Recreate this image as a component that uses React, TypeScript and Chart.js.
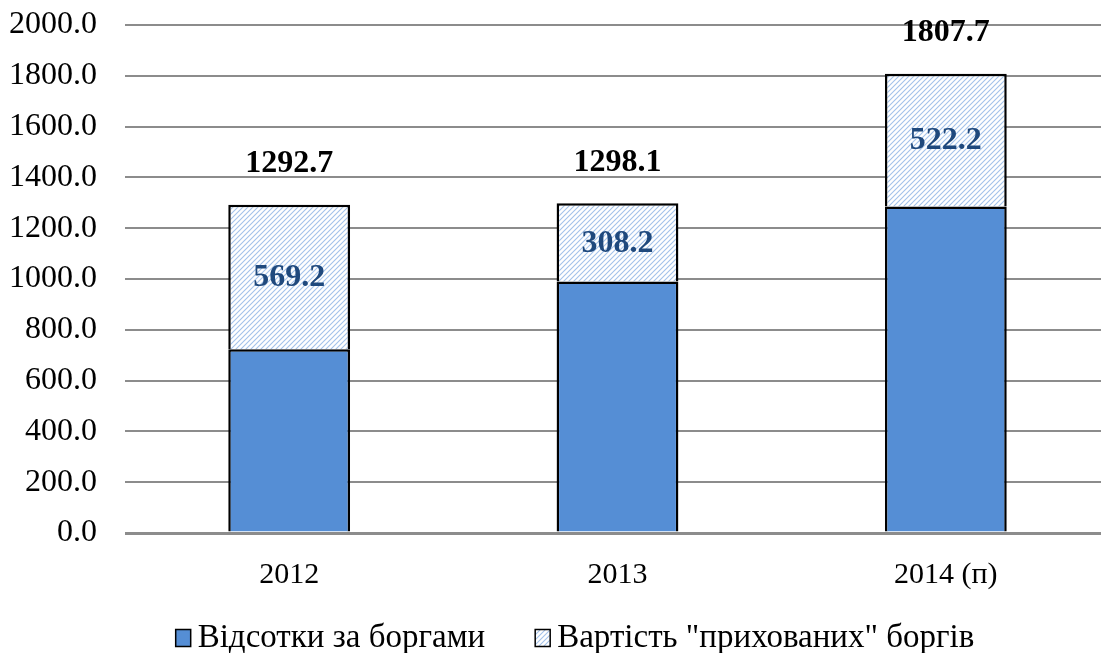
import React, { useEffect, useRef } from "react";
import { Chart, registerables } from "chart.js";

Chart.register(...registerables);

const categories = ["2012", "2013", "2014 (п)"];
const interestValues = [723.5, 989.9, 1285.5];
const hiddenDebtValues = [569.2, 308.2, 522.2];
const totalValues = [1292.7, 1298.1, 1807.7];
const seriesLabels = ["Відсотки за боргами", 'Вартість "прихованих" боргів'];
const yMin = 0;
const yMax = 2000;
const yStep = 200;

const FONT = "'Times New Roman', 'Liberation Serif', serif";

function makeHatch(): CanvasPattern | string {
  const size = 5;
  const c = document.createElement("canvas");
  c.width = size;
  c.height = size;
  const g = c.getContext("2d");
  if (!g) return "#c6d9f1";
  g.fillStyle = "#ffffff";
  g.fillRect(0, 0, size, size);
  g.strokeStyle = "#a3c2ea";
  g.lineWidth = 1.1;
  g.beginPath();
  g.moveTo(-1, size + 1);
  g.lineTo(size + 1, -1);
  g.moveTo(-1, 1);
  g.lineTo(1, -1);
  g.moveTo(size - 1, size + 1);
  g.lineTo(size + 1, size - 1);
  g.stroke();
  const p = g.createPattern(c, "repeat");
  return p || "#c6d9f1";
}

export default function App() {
  const ref = useRef<HTMLCanvasElement | null>(null);

  useEffect(() => {
    const canvas = ref.current;
    if (!canvas) return;
    const hatch = makeHatch();

    const labelPlugin = {
      id: "barLabels",
      afterDatasetsDraw(chart: any) {
        const ctx = chart.ctx;
        const topMeta = chart.getDatasetMeta(1);
        ctx.save();
        ctx.textAlign = "center";
        ctx.textBaseline = "middle";
        topMeta.data.forEach((el: any, i: number) => {
          const top = el.y;
          const base = el.base;
          ctx.font = `bold 32px ${FONT}`;
          ctx.fillStyle = "#1f497d";
          ctx.fillText(hiddenDebtValues[i].toFixed(1), el.x, (top + base) / 2 + 1);
          ctx.fillStyle = "#000000";
          ctx.fillText(totalValues[i].toFixed(1), el.x, top - 41);
        });
        ctx.restore();
      },
    };

    const legendPlugin = {
      id: "customLegend",
      afterDraw(chart: any) {
        const ctx = chart.ctx;
        ctx.save();
        ctx.font = `33px ${FONT}`;
        ctx.textBaseline = "middle";
        ctx.textAlign = "left";
        const boxW = 15;
        const boxH = 17;
        const boxGap = 7;
        const itemGap = 50;
        const widths = seriesLabels.map((l) => ctx.measureText(l).width);
        const total =
          widths.reduce((a: number, b: number) => a + b, 0) +
          seriesLabels.length * (boxW + boxGap) +
          itemGap * (seriesLabels.length - 1);
        let x = 575 - total / 2;
        const cy = 638;
        seriesLabels.forEach((label, i) => {
          const ds = chart.data.datasets[i];
          ctx.fillStyle = ds.backgroundColor;
          ctx.fillRect(x, cy - boxH / 2, boxW, boxH);
          ctx.strokeStyle = "#000000";
          ctx.lineWidth = 1.5;
          ctx.strokeRect(x, cy - boxH / 2, boxW, boxH);
          ctx.fillStyle = "#000000";
          ctx.fillText(label, x + boxW + boxGap, cy);
          x += boxW + boxGap + widths[i] + itemGap;
        });
        ctx.restore();
      },
    };

    const chart = new Chart(canvas, {
      type: "bar",
      data: {
        labels: categories,
        datasets: [
          {
            label: seriesLabels[0],
            data: interestValues,
            backgroundColor: "#558ed5",
            borderColor: "#000000",
            borderWidth: 2.5,
            categoryPercentage: 1,
            barPercentage: 0.371,
          },
          {
            label: seriesLabels[1],
            data: hiddenDebtValues,
            backgroundColor: hatch as any,
            borderColor: "#000000",
            borderWidth: 2.5,
            categoryPercentage: 1,
            barPercentage: 0.371,
          },
        ],
      },
      options: {
        responsive: false,
        animation: false,
        devicePixelRatio: 1,
        layout: { padding: { top: 25, bottom: 60, left: 0, right: 0 } },
        plugins: {
          legend: { display: false },
          tooltip: { enabled: false },
        },
        scales: {
          x: {
            stacked: true,
            grid: { display: false, drawTicks: false },
            border: { display: false },
            ticks: {
              color: "#000000",
              font: { family: FONT, size: 30 },
              padding: 24,
            },
            afterFit(scale: any) {
              scale.height = 60;
            },
          },
          y: {
            stacked: true,
            min: yMin,
            max: yMax,
            grid: {
              color: "#8c8c8c",
              lineWidth: (c: any) => (c.tick && c.tick.value === 0 ? 3 : 2),
              drawTicks: true,
              tickLength: 28,
              tickColor: "rgba(0,0,0,0)",
            },
            border: { display: false },
            ticks: {
              stepSize: yStep,
              color: "#000000",
              font: { family: FONT, size: 32 },
              padding: 0,
              callback: (v: any) => Number(v).toFixed(1),
            },
            afterFit(scale: any) {
              scale.width = 125;
              scale.paddingTop = 0;
              scale.paddingBottom = 0;
            },
          },
        },
      },
      plugins: [labelPlugin, legendPlugin],
    });

    return () => chart.destroy();
  }, []);

  return (
    <div
      style={{
        position: "absolute",
        left: 0,
        top: 0,
        width: 1101,
        height: 653,
        overflow: "hidden",
        background: "#ffffff",
      }}
    >
      <canvas ref={ref} width={1110} height={653} style={{ width: 1110, height: 653 }} />
    </div>
  );
}
